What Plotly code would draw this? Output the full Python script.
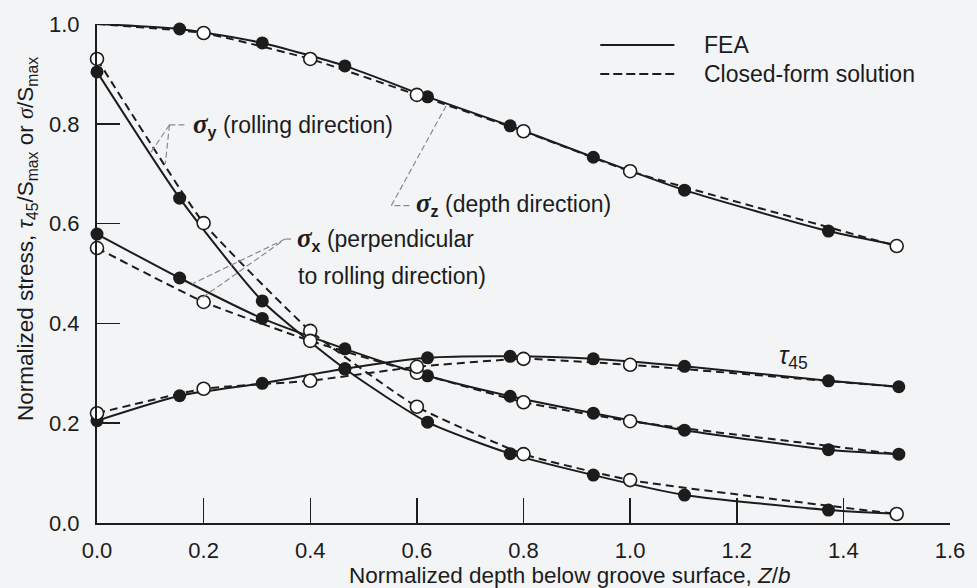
import numpy as np
import plotly.graph_objects as go

# ---------------- data ----------------
z_fea = [0.0, 0.155, 0.31, 0.465, 0.62, 0.775, 0.931, 1.102, 1.372, 1.504]
z_cf = [0.0, 0.2, 0.4, 0.6, 0.8, 1.0, 1.5]

sz_fea = [1.000, 0.990, 0.962, 0.916, 0.854, 0.796, 0.733, 0.667, 0.585, 0.556]
sz_fea_mark = [0, 1, 1, 1, 1, 1, 1, 1, 1, 0]
sz_cf = [1.000, 0.982, 0.930, 0.858, 0.785, 0.705, 0.555]
sz_cf_mark = [0, 1, 1, 1, 1, 1, 1]

sy_fea = [0.904, 0.651, 0.445, 0.309, 0.202, 0.139, 0.096, 0.056, 0.026, 0.018]
sy_fea_mark = [1, 1, 1, 1, 1, 1, 1, 1, 1, 0]
sy_cf = [0.930, 0.601, 0.385, 0.233, 0.138, 0.086, 0.018]
sy_cf_mark = [1, 1, 1, 1, 1, 1, 1]

sx_fea = [0.579, 0.491, 0.410, 0.349, 0.295, 0.254, 0.220, 0.186, 0.147, 0.138]
sx_fea_mark = [1, 1, 1, 1, 1, 1, 1, 1, 1, 1]
sx_cf = [0.551, 0.443, 0.365, 0.301, 0.242, 0.204, 0.138]
sx_cf_mark = [1, 1, 1, 1, 1, 1, 0]

t45_fea = [0.205, 0.255, 0.280, 0.309, 0.331, 0.334, 0.329, 0.314, 0.285, 0.273]
t45_fea_mark = [1, 1, 1, 1, 1, 1, 1, 1, 1, 1]
t45_cf = [0.220, 0.269, 0.285, 0.313, 0.329, 0.317, 0.273]
t45_cf_mark = [1, 1, 1, 1, 1, 1, 0]

x_ticks = [0.0, 0.2, 0.4, 0.6, 0.8, 1.0, 1.2, 1.4, 1.6]
y_ticks = [0.0, 0.2, 0.4, 0.6, 0.8, 1.0]

INK = "#1c1c1c"
BG = "#f3f4f6"
LEAD = "#8a8a8a"
SANS = "Liberation Sans, Arial, sans-serif"
SERIF = "Liberation Serif"

fig = go.Figure()

fea_sets = [(sz_fea, sz_fea_mark), (sy_fea, sy_fea_mark), (sx_fea, sx_fea_mark), (t45_fea, t45_fea_mark)]
cf_sets = [(sz_cf, sz_cf_mark), (sy_cf, sy_cf_mark), (sx_cf, sx_cf_mark), (t45_cf, t45_cf_mark)]

for ys, mk in fea_sets:
    fig.add_trace(go.Scatter(
        x=z_fea, y=ys, mode="lines+markers", cliponaxis=False,
        line=dict(color=INK, width=2, shape="spline", smoothing=0.6),
        marker=dict(size=13, color=INK, opacity=mk, line=dict(width=0)),
        showlegend=False, hoverinfo="skip"))

for ys, mk in cf_sets:
    fig.add_trace(go.Scatter(
        x=z_cf, y=ys, mode="lines+markers", cliponaxis=False,
        line=dict(color=INK, width=2, dash="8px,5px", shape="spline", smoothing=0.4),
        marker=dict(size=13, color="white", opacity=mk, line=dict(width=1.6, color=INK)),
        showlegend=False, hoverinfo="skip"))


def sig(sub):
    return ("<span style=\"font-family:'%s';font-size:27px\"><b><i>σ</i></b></span>"
            "<sub><b>%s</b></sub>" % (SERIF, sub))


ann_font = dict(family=SANS, size=23, color=INK)
annotations = [
    dict(x=0.176, y=0.798, text=sig("y") + " (rolling direction)"),
    dict(x=0.595, y=0.639, text=sig("z") + " (depth direction)"),
    dict(x=0.371, y=0.569, text=sig("x") + " (perpendicular"),
    dict(x=0.3735, y=0.495, text="to rolling direction)"),
    dict(x=1.275, y=0.333, text="<i>τ</i><sub>45</sub>", font=dict(family=SANS, size=25, color=INK)),
    dict(x=1.135, y=0.958, text="FEA"),
    dict(x=1.135, y=0.900, text="Closed-form solution"),
]
for a in annotations:
    a.setdefault("font", ann_font)
    a.update(xref="x", yref="y", xanchor="left", yanchor="middle", showarrow=False)

# axis titles as annotations (positioned as in the reference)
annotations.append(dict(
    xref="paper", yref="paper", x=0, y=0.569, xshift=-70, xanchor="center", yanchor="middle",
    textangle=-90, showarrow=False, font=dict(family=SANS, size=22.5, color=INK),
    text="Normalized stress, <i>τ</i><sub>45</sub>/S<sub>max</sub> or "
         "<span style=\"font-family:'%s'\"><i>σ</i></span>/S<sub>max</sub>" % SERIF))
annotations.append(dict(
    xref="paper", yref="paper", x=0.554, y=0, yshift=-52, xanchor="center", yanchor="middle",
    showarrow=False, font=dict(family=SANS, size=22.5, color=INK),
    text="Normalized depth below groove surface, <i>Z</i>/<i>b</i>"))

shapes = []


def seg(x0, y0, x1, y1, color=LEAD, width=1.2, dash="6px,3px"):
    shapes.append(dict(type="line", xref="x", yref="y", x0=x0, y0=y0, x1=x1, y1=y1,
                       line=dict(color=color, width=width, dash=dash)))


# leader for sigma_y
cy = (0.136, 0.798)
seg(0.164, 0.798, cy[0], cy[1])
seg(cy[0], cy[1], 0.100, float(np.interp(0.100, z_fea, sy_fea)))
seg(cy[0], cy[1], 0.128, float(np.interp(0.128, z_cf, sy_cf)))
# leader for sigma_z
cz = (0.552, 0.636)
seg(0.586, 0.636, cz[0], cz[1])
seg(cz[0], cz[1], 0.657, float(np.interp(0.657, z_fea, sz_fea)))
# leader for sigma_x
cx = (0.353, 0.569)
seg(0.364, 0.569, cx[0], cx[1])
seg(cx[0], cx[1], 0.178, float(np.interp(0.178, z_fea, sx_fea)))
seg(cx[0] - 0.008, cx[1] - 0.006, 0.192, float(np.interp(0.192, z_cf, sx_cf)))

# legend samples
seg(0.944, 0.958, 1.083, 0.958, color=INK, width=2, dash="solid")
seg(0.944, 0.900, 1.083, 0.900, color=INK, width=2, dash="9px,4px")

axis_common = dict(showline=True, linecolor=INK, linewidth=2, ticks="inside",
                   tickcolor=INK, tickwidth=1.5, showgrid=False, zeroline=False,
                   tickfont=dict(family=SANS, size=22, color=INK), tickformat=".1f")

fig.update_layout(
    width=977, height=588,
    margin=dict(l=97, r=19, t=22, b=65),
    paper_bgcolor=BG, plot_bgcolor=BG,
    xaxis=dict(range=[0, 1.6], tickvals=x_ticks, ticklen=25, ticklabelstandoff=7,
               **axis_common),
    yaxis=dict(range=[0, 1.0], tickvals=y_ticks, ticklen=23, ticklabelstandoff=11,
               **axis_common),
    annotations=annotations,
    shapes=shapes,
)

fig.write_html("out.html",
               config={"displayModeBar": False, "staticPlot": True},
               post_script="document.body.style.margin='0';"
                           "document.body.style.overflow='hidden';"
                           "document.body.style.background='%s';" % BG)
